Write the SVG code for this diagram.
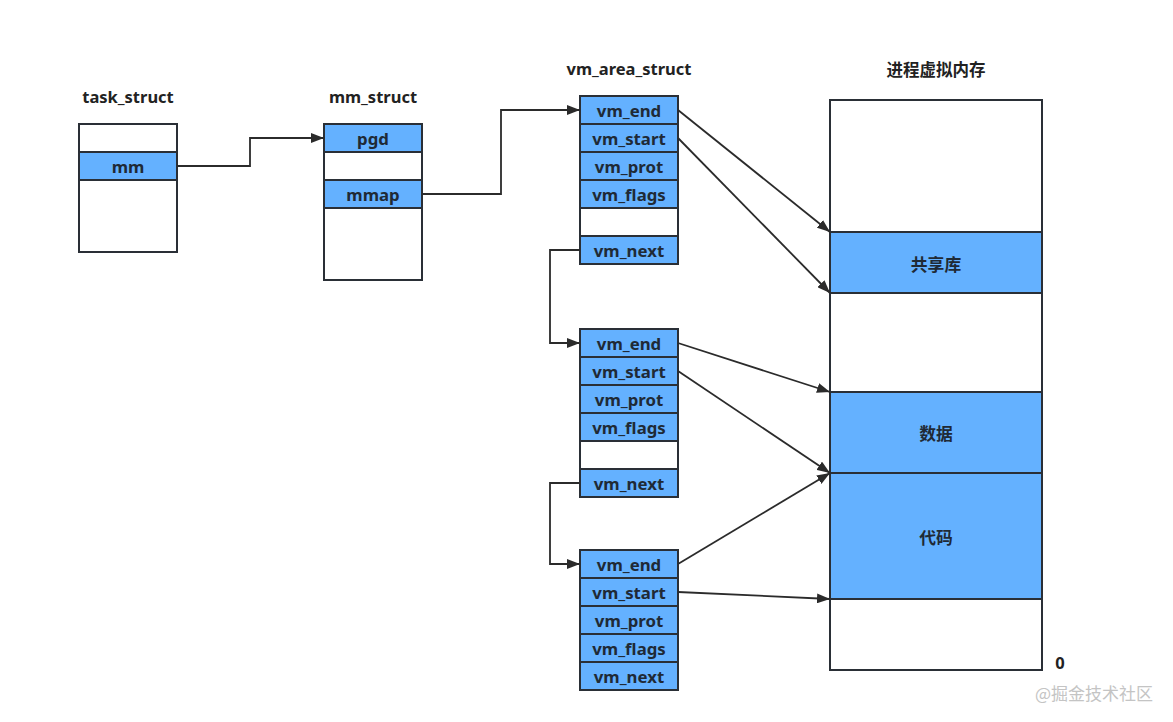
<svg xmlns="http://www.w3.org/2000/svg" width="1173" height="722" viewBox="0 0 1173 722">
<defs>
<marker id="ah" viewBox="0 0 13 10" refX="13" refY="5" markerWidth="13" markerHeight="10" markerUnits="userSpaceOnUse" orient="auto">
<path d="M0,0 L13,5 L0,10 z" fill="#2b2b2b"/>
</marker>
</defs>
<style>
.b{fill:#64b1ff;stroke:#2a2f36;stroke-width:2}
.w{fill:#fff;stroke:#2a2f36;stroke-width:2}
.t{font-family:"Noto Sans","Noto Sans CJK SC",sans-serif;font-weight:bold;font-size:16.8px;fill:#1f2a36;text-anchor:middle;dominant-baseline:central}
.h{font-family:"Noto Sans","Noto Sans CJK SC",sans-serif;font-weight:bold;font-size:16.5px;fill:#222;text-anchor:middle;dominant-baseline:central}
.c{fill:none;stroke:#2b2b2b;stroke-width:1.8;marker-end:url(#ah)}
</style>
<rect width="1173" height="722" fill="#fff"/>
<text class="h" x="128" y="96">task_struct</text>
<text class="h" x="373" y="96">mm_struct</text>
<text class="h" x="629" y="68">vm_area_struct</text>
<text class="h" x="936" y="69" font-family="Noto Sans CJK SC,sans-serif">进程虚拟内存</text>

<g id="task_struct">
<rect class="w" x="79" y="124" width="98" height="128"/>
<rect class="b" x="79" y="152" width="98" height="28"/>
<text class="t" x="128" y="166">mm</text>
</g>

<g id="mm_struct">
<rect class="w" x="324" y="124" width="98" height="156"/>
<rect class="b" x="324" y="124" width="98" height="28"/>
<text class="t" x="373" y="138">pgd</text>
<rect class="b" x="324" y="180" width="98" height="28"/>
<text class="t" x="373" y="194">mmap</text>
</g>

<g id="vma1">
<rect class="b" x="580" y="96" width="98" height="28"/>
<text class="t" x="629" y="110">vm_end</text>
<rect class="b" x="580" y="124" width="98" height="28"/>
<text class="t" x="629" y="138">vm_start</text>
<rect class="b" x="580" y="152" width="98" height="28"/>
<text class="t" x="629" y="166">vm_prot</text>
<rect class="b" x="580" y="180" width="98" height="28"/>
<text class="t" x="629" y="194">vm_flags</text>
<rect class="w" x="580" y="208" width="98" height="28"/>
<rect class="b" x="580" y="236" width="98" height="28"/>
<text class="t" x="629" y="250">vm_next</text>
</g>

<g id="vma2">
<rect class="b" x="580" y="329" width="98" height="28"/>
<text class="t" x="629" y="343">vm_end</text>
<rect class="b" x="580" y="357" width="98" height="28"/>
<text class="t" x="629" y="371">vm_start</text>
<rect class="b" x="580" y="385" width="98" height="28"/>
<text class="t" x="629" y="399">vm_prot</text>
<rect class="b" x="580" y="413" width="98" height="28"/>
<text class="t" x="629" y="427">vm_flags</text>
<rect class="w" x="580" y="441" width="98" height="28"/>
<rect class="b" x="580" y="469" width="98" height="28"/>
<text class="t" x="629" y="483">vm_next</text>
</g>

<g id="vma3">
<rect class="b" x="580" y="550" width="98" height="28"/>
<text class="t" x="629" y="564">vm_end</text>
<rect class="b" x="580" y="578" width="98" height="28"/>
<text class="t" x="629" y="592">vm_start</text>
<rect class="b" x="580" y="606" width="98" height="28"/>
<text class="t" x="629" y="620">vm_prot</text>
<rect class="b" x="580" y="634" width="98" height="28"/>
<text class="t" x="629" y="648">vm_flags</text>
<rect class="b" x="580" y="662" width="98" height="28"/>
<text class="t" x="629" y="676">vm_next</text>
</g>

<g id="memory">
<rect class="w" x="830" y="100" width="212" height="570"/>
<rect class="b" x="830" y="232" width="212" height="61"/>
<text class="t" x="936" y="264">共享库</text>
<rect class="b" x="830" y="392" width="212" height="81"/>
<text class="t" x="936" y="433">数据</text>
<rect class="b" x="830" y="473" width="212" height="126"/>
<text class="t" x="936" y="537">代码</text>
<text class="h" x="1060" y="662" font-size="13.5">0</text>
</g>

<g id="connectors">
<path class="c" d="M177,166 H250 V138 H324"/>
<path class="c" d="M422,194 H501 V110 H580"/>
<path class="c" d="M580,250 H550 V343 H580"/>
<path class="c" d="M580,483 H550 V564 H580"/>
<path class="c" d="M678,110 L830,232"/>
<path class="c" d="M678,138 L830,293"/>
<path class="c" d="M678,343 L830,392"/>
<path class="c" d="M678,371 L830,473"/>
<path class="c" d="M678,564 L830,473"/>
<path class="c" d="M678,592 L830,599"/>
</g>

<text x="1094" y="692" font-family="Noto Sans CJK SC,sans-serif" font-size="17" fill="#c4c4c4" text-anchor="middle" dominant-baseline="central">@掘金技术社区</text>
</svg>
